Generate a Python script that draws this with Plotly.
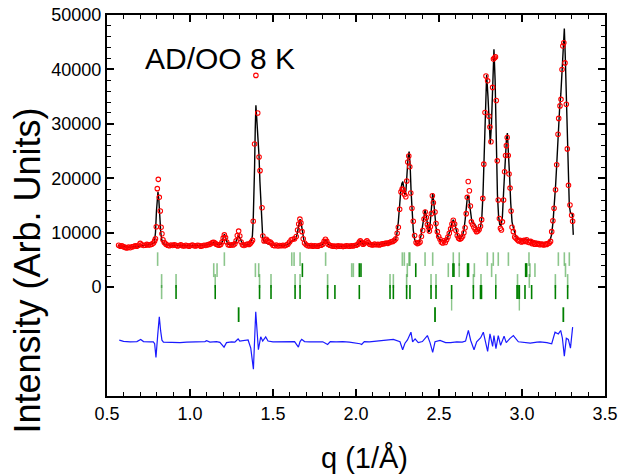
import plotly.graph_objects as go

# ---------------- data ----------------
obs_pts = [
    (0.570, 7700), (0.580, 7500), (0.590, 7600), (0.600, 7400), (0.610, 7300), (0.620, 7200),
    (0.630, 7350), (0.640, 7250), (0.650, 7400), (0.660, 7450), (0.670, 7600), (0.680, 7500),
    (0.690, 7700), (0.700, 8050), (0.710, 7800), (0.720, 7650), (0.730, 7700), (0.740, 7850),
    (0.750, 7750), (0.760, 7800), (0.770, 7900), (0.780, 8100), (0.787, 8500), (0.792, 8900),
    (0.797, 11100), (0.803, 18100), (0.809, 19800), (0.815, 16500), (0.821, 14000), (0.826, 11000),
    (0.831, 9800), (0.837, 8700), (0.845, 8200), (0.855, 7900),
    (0.865, 7700), (0.875, 7600), (0.885, 7750), (0.895, 7650), (0.905, 7800), (0.915, 7700),
    (0.925, 7550), (0.935, 7650), (0.945, 7800), (0.955, 7600), (0.965, 7550), (0.975, 7700),
    (0.985, 7600), (0.995, 7500), (1.005, 7650), (1.015, 7750), (1.025, 7600), (1.035, 7550),
    (1.045, 7700), (1.055, 7650), (1.065, 7500), (1.075, 7600), (1.085, 7700), (1.095, 7650),
    (1.105, 7800), (1.115, 7850), (1.125, 7950), (1.135, 8200), (1.143, 8250), (1.150, 8100),
    (1.158, 7900), (1.166, 7800), (1.175, 7700), (1.185, 7850), (1.193, 8300), (1.200, 9000),
    (1.207, 9600), (1.214, 9100), (1.221, 8300), (1.230, 7800), (1.240, 7700), (1.250, 7800),
    (1.260, 7750), (1.270, 7950), (1.278, 8500), (1.285, 9500), (1.293, 10300), (1.300, 9400),
    (1.308, 8300), (1.316, 7800), (1.325, 7650), (1.335, 7800), (1.345, 7900), (1.355, 7850),
    (1.363, 8000), (1.370, 8300), (1.377, 8600), (1.381, 12100), (1.389, 26300), (1.397, 38900),
    (1.408, 32000), (1.416, 23900), (1.422, 21400), (1.434, 14600), (1.439, 9400), (1.446, 8500),
    (1.453, 8700), (1.460, 8800), (1.468, 8500), (1.476, 8300), (1.484, 8300), (1.492, 8000),
    (1.500, 7700), (1.510, 7600), (1.520, 7750), (1.530, 7550), (1.540, 7650), (1.550, 7600),
    (1.560, 7700), (1.570, 7600), (1.580, 7750), (1.590, 7900), (1.600, 8300), (1.610, 8700),
    (1.620, 8800), (1.630, 8900), (1.640, 9300), (1.648, 10500), (1.655, 11600), (1.662, 12500),
    (1.668, 11800), (1.675, 10200), (1.682, 8900), (1.690, 8100), (1.700, 7800), (1.710, 7600),
    (1.720, 7550), (1.730, 7650), (1.740, 7500), (1.750, 7600), (1.760, 7550), (1.770, 7500),
    (1.780, 7650), (1.790, 7700), (1.800, 7900), (1.808, 8400), (1.816, 8800), (1.824, 8400),
    (1.832, 7900), (1.842, 7700), (1.852, 7600), (1.862, 7500), (1.872, 7550), (1.882, 7450),
    (1.892, 7600), (1.902, 7500), (1.912, 7550), (1.922, 7450), (1.932, 7500), (1.942, 7600),
    (1.952, 7550), (1.962, 7500), (1.972, 7600), (1.982, 7550), (1.992, 7650), (2.002, 7700),
    (2.012, 7900), (2.020, 8300), (2.026, 8500), (2.034, 8200), (2.042, 7900), (2.050, 8000),
    (2.058, 8300), (2.066, 8500), (2.074, 8200), (2.082, 7900), (2.092, 7800), (2.102, 7750),
    (2.112, 7900), (2.122, 7800), (2.132, 7850), (2.142, 7750), (2.152, 7900), (2.162, 7950),
    (2.172, 8000), (2.182, 8100), (2.192, 8050), (2.202, 8200), (2.212, 8350), (2.222, 8400),
    (2.232, 8600), (2.240, 8900), (2.248, 9900), (2.255, 11000), (2.263, 14300), (2.271, 17500),
    (2.278, 18000), (2.285, 17900), (2.292, 17000), (2.300, 16600), (2.306, 19500), (2.312, 23000),
    (2.318, 24100), (2.324, 22100), (2.330, 17300), (2.337, 14500), (2.345, 12100), (2.353, 9500),
    (2.362, 8200), (2.370, 8000), (2.378, 8100), (2.386, 8300), (2.394, 9300), (2.402, 10400),
    (2.410, 12500), (2.417, 13800), (2.424, 12800), (2.430, 11500), (2.436, 11000), (2.442, 10300),
    (2.448, 11100), (2.454, 13500), (2.460, 16800), (2.466, 15500), (2.476, 13800), (2.482, 11700),
    (2.490, 10200), (2.498, 9300), (2.506, 8800), (2.514, 8300), (2.522, 8100), (2.530, 8500),
    (2.538, 8200), (2.546, 8700), (2.554, 9200), (2.562, 9900), (2.570, 10700), (2.578, 11600),
    (2.586, 12300), (2.594, 11600), (2.602, 10400), (2.610, 9500), (2.618, 9000), (2.626, 8800),
    (2.634, 9000), (2.642, 9300), (2.650, 10000), (2.657, 10900), (2.664, 13500), (2.670, 16500),
    (2.676, 19400), (2.683, 17700), (2.689, 14900), (2.695, 12000), (2.702, 11500), (2.710, 11000),
    (2.718, 10600), (2.726, 10200), (2.734, 10300), (2.742, 10600), (2.750, 11200), (2.757, 12400),
    (2.764, 16300), (2.770, 22600), (2.777, 32100), (2.783, 38800), (2.793, 37900), (2.801, 31400),
    (2.807, 29400), (2.813, 26700), (2.823, 36700), (2.828, 41900), (2.834, 42100), (2.840, 42300),
    (2.845, 34300), (2.851, 23200), (2.857, 16000), (2.864, 12600), (2.870, 10800), (2.876, 10500),
    (2.882, 12000), (2.889, 16000), (2.895, 21200), (2.901, 24200), (2.906, 26000), (2.911, 27500),
    (2.917, 24200), (2.922, 20800), (2.928, 18200), (2.934, 14000), (2.940, 11000), (2.948, 10200),
    (2.956, 9200), (2.964, 9000), (2.972, 8700), (2.980, 8500), (2.988, 8600), (2.996, 8300),
    (3.004, 8400), (3.012, 8600), (3.020, 8400), (3.028, 8700), (3.036, 8300), (3.044, 8200),
    (3.052, 8400), (3.060, 8000), (3.068, 8200), (3.076, 7900), (3.084, 8100), (3.092, 7900),
    (3.100, 8000), (3.108, 7800), (3.116, 7900), (3.124, 7850), (3.132, 7750), (3.140, 7900),
    (3.148, 7850), (3.156, 8000), (3.164, 8100), (3.172, 8400), (3.179, 10200), (3.186, 12200),
    (3.193, 14500), (3.202, 17900), (3.209, 22500), (3.217, 28100), (3.221, 31000), (3.229, 33300),
    (3.235, 34500), (3.241, 40000), (3.246, 44300), (3.252, 44900), (3.259, 41200), (3.267, 33600),
    (3.273, 25400), (3.280, 18700), (3.289, 15100), (3.299, 13200), (3.305, 12100),
]

calc_pts = [
    (0.566, 7600), (0.590, 7500), (0.620, 7350), (0.650, 7380), (0.680, 7520), (0.710, 7680),
    (0.740, 7750), (0.770, 7850), (0.785, 8200), (0.792, 10000), (0.798, 14000), (0.803, 16800),
    (0.807, 17500), (0.812, 16200), (0.818, 12800), (0.824, 10000), (0.830, 8700), (0.838, 8050),
    (0.850, 7800), (0.880, 7700), (0.920, 7650), (0.960, 7600), (1.000, 7600), (1.050, 7650),
    (1.090, 7700), (1.120, 7850), (1.135, 8100), (1.145, 8200), (1.155, 8000), (1.170, 7800),
    (1.185, 7850), (1.195, 8400), (1.202, 9300), (1.207, 9700), (1.213, 9300), (1.220, 8500),
    (1.230, 7900), (1.245, 7750), (1.262, 7800), (1.275, 8200), (1.285, 9000), (1.293, 9450),
    (1.300, 9100), (1.308, 8400), (1.318, 7800), (1.330, 7700), (1.345, 7850), (1.360, 7950),
    (1.370, 8300), (1.376, 9500), (1.381, 12500), (1.385, 16000), (1.389, 22000), (1.393, 29000),
    (1.397, 33400), (1.402, 31000), (1.408, 28500), (1.416, 24000), (1.421, 19500), (1.426, 15500),
    (1.432, 11500), (1.438, 9200), (1.446, 8300), (1.458, 8100), (1.470, 7950), (1.490, 7750),
    (1.520, 7650), (1.560, 7650), (1.590, 7800), (1.610, 8400), (1.625, 8600), (1.640, 9000),
    (1.650, 10500), (1.657, 11800), (1.663, 12500), (1.670, 11700), (1.678, 10000), (1.686, 8600),
    (1.695, 7900), (1.710, 7650), (1.740, 7550), (1.780, 7600), (1.800, 7850), (1.808, 8300),
    (1.816, 8800), (1.824, 8400), (1.832, 7900), (1.845, 7650), (1.880, 7500), (1.920, 7500),
    (1.960, 7550), (2.000, 7650), (2.015, 7950), (2.024, 8500), (2.032, 8200), (2.045, 7900),
    (2.060, 8100), (2.068, 8150), (2.080, 7950), (2.100, 7850), (2.140, 7850), (2.180, 8000),
    (2.210, 8200), (2.235, 8600), (2.245, 9500), (2.255, 12000), (2.263, 15500), (2.270, 17800),
    (2.276, 19000), (2.282, 19400), (2.288, 18200), (2.295, 16900), (2.301, 17800), (2.307, 21000),
    (2.314, 24000), (2.320, 24900), (2.326, 22500), (2.332, 17500), (2.338, 13000), (2.345, 10500),
    (2.353, 8800), (2.362, 8100), (2.372, 7950), (2.382, 8300), (2.392, 9500), (2.400, 11000),
    (2.408, 12800), (2.416, 14200), (2.423, 13200), (2.430, 11400), (2.437, 10200), (2.443, 10300),
    (2.450, 12500), (2.456, 15500), (2.462, 17300), (2.468, 15800), (2.475, 13000), (2.482, 11000),
    (2.490, 9600), (2.500, 8900), (2.512, 8600), (2.525, 8500), (2.536, 8500), (2.548, 8800),
    (2.558, 9500), (2.568, 10500), (2.578, 11800), (2.586, 12400), (2.594, 11800), (2.602, 10500),
    (2.612, 9400), (2.622, 8950), (2.632, 9000), (2.642, 9500), (2.650, 10500), (2.658, 12500),
    (2.665, 15000), (2.671, 16600), (2.677, 16900), (2.683, 15500), (2.690, 13500), (2.698, 12000),
    (2.706, 11700), (2.714, 11600), (2.722, 11200), (2.730, 10500), (2.737, 10200), (2.744, 10500),
    (2.750, 11000), (2.758, 12800), (2.765, 17000), (2.772, 24000), (2.779, 33000), (2.787, 39000),
    (2.795, 35000), (2.802, 29000), (2.809, 26300), (2.816, 30000), (2.824, 39000), (2.831, 43700),
    (2.838, 38000), (2.845, 26000), (2.852, 17000), (2.859, 13000), (2.866, 11500), (2.874, 11300),
    (2.882, 13000), (2.890, 18000), (2.898, 23500), (2.906, 27000), (2.912, 28300), (2.918, 25500),
    (2.925, 20500), (2.932, 15500), (2.940, 12000), (2.948, 10900), (2.956, 9800), (2.964, 9200),
    (2.975, 8900), (2.990, 8700), (3.010, 8700), (3.028, 8800), (3.050, 8650), (3.068, 8500),
    (3.090, 8200), (3.110, 8050), (3.130, 8050), (3.148, 8150), (3.160, 8350), (3.169, 8650),
    (3.178, 9600), (3.187, 12000), (3.195, 15000), (3.203, 19000), (3.210, 23000), (3.218, 28500),
    (3.226, 32500), (3.234, 35500), (3.242, 40500), (3.249, 45000), (3.255, 47500), (3.261, 42000),
    (3.267, 34000), (3.273, 26000), (3.279, 19500), (3.285, 15000), (3.292, 13600), (3.303, 13400),
    (3.309, 9600),
]

diff_pts = [
    (0.574, -9740), (0.600, -9950), (0.640, -10050), (0.680, -10000), (0.703, -9620), (0.720, -10000),
    (0.760, -10050), (0.779, -10050), (0.787, -10400), (0.795, -12900), (0.805, -9000), (0.815, -5450),
    (0.823, -8000), (0.831, -9740), (0.840, -10100), (0.870, -10150), (0.900, -10100), (0.940, -10200),
    (0.980, -10100), (1.020, -10050), (1.060, -10100), (1.090, -10000), (1.100, -9850), (1.120, -10100),
    (1.160, -10000), (1.180, -10150), (1.205, -11020), (1.220, -10200), (1.250, -10050), (1.270, -10100),
    (1.280, -9800), (1.290, -9500), (1.300, -9900), (1.330, -9850), (1.350, -9700), (1.366, -11200),
    (1.382, -15070), (1.396, -4540), (1.405, -8500), (1.412, -11500), (1.426, -9130), (1.438, -9900),
    (1.456, -9130), (1.470, -9900), (1.500, -10040), (1.550, -10000), (1.600, -10050), (1.630, -10000),
    (1.653, -11020), (1.663, -10000), (1.673, -9600), (1.690, -10000), (1.720, -10050), (1.760, -10000),
    (1.800, -10050), (1.829, -10530), (1.845, -10000), (1.880, -10050), (1.920, -10000), (1.960, -10100),
    (1.990, -10200), (2.024, -10400), (2.034, -10530), (2.050, -10000), (2.080, -10050), (2.120, -9950),
    (2.150, -9850), (2.190, -9800), (2.225, -9600), (2.265, -10040), (2.281, -11500), (2.295, -10300),
    (2.310, -9700), (2.331, -8270), (2.341, -10040), (2.356, -9500), (2.375, -10200), (2.400, -10000),
    (2.430, -8890), (2.446, -10200), (2.462, -11990), (2.476, -10040), (2.506, -9800), (2.540, -10200),
    (2.570, -10200), (2.607, -10040), (2.640, -10100), (2.660, -9900), (2.677, -7960), (2.691, -9800),
    (2.711, -11500), (2.727, -10040), (2.751, -9300), (2.767, -8270), (2.781, -10500), (2.793, -11800),
    (2.807, -8600), (2.823, -10900), (2.831, -8890), (2.843, -11300), (2.857, -8890), (2.871, -10700),
    (2.892, -9010), (2.905, -10200), (2.928, -9400), (2.948, -8890), (2.978, -10040), (3.010, -10200),
    (3.050, -10300), (3.090, -10100), (3.109, -10040), (3.150, -10200), (3.179, -10400), (3.199, -8270),
    (3.219, -8600), (3.233, -7960), (3.243, -9300), (3.255, -12670), (3.267, -9400), (3.279, -9600),
    (3.292, -11200), (3.305, -7350),
]

# reflection tick positions (q, 1/A) for each row
ticks_a = [0.805, 1.207, 1.613, 1.627, 1.663, 1.817, 2.279, 2.291, 2.319, 2.325, 2.416, 2.462,
           2.586, 2.622, 2.791, 2.827, 2.857, 2.918, 3.042, 3.219, 3.255, 3.285]
ticks_b_light = [1.143, 1.163, 1.394, 1.414, 1.974, 1.984, 2.309, 2.556, 2.622, 2.713, 2.817,
                 3.048, 3.078, 3.262]
ticks_b_dark = [1.677, 2.020, 2.030, 2.360, 2.584, 2.590, 2.672, 2.678, 3.022, 3.028]
ticks_c = [0.829, 0.916, 1.152, 1.419, 1.488, 1.633, 1.663, 1.829, 2.205, 2.225, 2.305, 2.452,
           2.482, 2.707, 2.753, 2.842, 2.973, 3.044, 3.201, 3.275]
ticks_d = [0.916, 1.152, 1.419, 1.488, 1.633, 1.663, 1.829, 1.873, 2.020, 2.205, 2.225, 2.305,
           2.325, 2.452, 2.482, 2.576, 2.707, 2.750, 2.756, 2.842, 2.970, 2.976, 2.984, 3.018,
           3.058, 3.201, 3.275]
ticks_d_light = [0.829]
ticks_e = [1.293, 2.476, 3.249]
ticks_f = [2.576, 2.984]

x_tick_vals = [0.5, 1.0, 1.5, 2.0, 2.5, 3.0, 3.5]
x_tick_text = ["0.5", "1.0", "1.5", "2.0", "2.5", "3.0", "3.5"]
y_tick_vals = [0, 10000, 20000, 30000, 40000, 50000]
y_tick_text = ["0", "10000", "20000", "30000", "40000", "50000"]

# ---------------- styling / layout constants ----------------
FONT = "Liberation Sans, Arial, Helvetica, sans-serif"
LIGHT_GREEN = "rgba(0,128,0,0.45)"
DARK_GREEN = "rgb(0,128,0)"
ROW_A = (3900, 6400)
ROW_B = (1850, 4400)
ROW_C = (-150, 2400)
ROW_D = (-2200, 400)
ROW_E = (-6400, -3700)
ROW_F = (-4300, -2200)


def tick_segments(positions, yr):
    xs, ys = [], []
    for q in positions:
        xs += [q, q, None]
        ys += [yr[0], yr[1], None]
    return xs, ys


fig = go.Figure()

for pos, yr, col, w in [
    (ticks_a, ROW_A, LIGHT_GREEN, 1.6),
    (ticks_b_light, ROW_B, LIGHT_GREEN, 1.6),
    (ticks_b_dark, ROW_B, DARK_GREEN, 1.6),
    (ticks_c, ROW_C, LIGHT_GREEN, 1.6),
    (ticks_d, ROW_D, DARK_GREEN, 1.6),
    (ticks_d_light, ROW_D, LIGHT_GREEN, 1.6),
    (ticks_e, ROW_E, DARK_GREEN, 1.8),
    (ticks_f, ROW_F, LIGHT_GREEN, 1.4),
]:
    xs, ys = tick_segments(pos, yr)
    fig.add_trace(go.Scatter(x=xs, y=ys, mode="lines", line=dict(color=col, width=w),
                             hoverinfo="skip", showlegend=False))

fig.add_trace(go.Scatter(x=[p[0] for p in diff_pts], y=[p[1] for p in diff_pts], mode="lines",
                         line=dict(color="#1a1aff", width=1.2), showlegend=False))
fig.add_trace(go.Scatter(x=[p[0] for p in calc_pts], y=[p[1] for p in calc_pts], mode="lines",
                         line=dict(color="black", width=1.4), showlegend=False))
fig.add_trace(go.Scatter(x=[p[0] for p in obs_pts], y=[p[1] for p in obs_pts], mode="markers",
                         marker=dict(symbol="circle-open", size=4.5, color="red",
                                     line=dict(width=1.1, color="red")),
                         showlegend=False))

axis_common = dict(showgrid=False, zeroline=False, showline=True, linecolor="black",
                   linewidth=2, mirror="ticks", ticks="inside", tickcolor="black",
                   tickwidth=1.5, ticklen=7, automargin=False,
                   tickfont=dict(family=FONT, size=18, color="black"))

fig.update_layout(
    width=625, height=474,
    margin=dict(l=107, r=20, t=15, b=78, autoexpand=False),
    paper_bgcolor="white", plot_bgcolor="white",
    xaxis=dict(range=[0.5, 3.5], tickmode="array", tickvals=x_tick_vals, ticktext=x_tick_text,
               minor=dict(ticks="inside", ticklen=4, tickwidth=1, tickcolor="black",
                          tickmode="linear", tick0=0.5, dtick=0.1),
               **axis_common),
    yaxis=dict(range=[-20000, 50000], tickmode="array", tickvals=y_tick_vals, ticktext=y_tick_text,
               minor=dict(ticks="inside", ticklen=4, tickwidth=1, tickcolor="black",
                          tickmode="array",
                          tickvals=[v for v in range(2000, 50000, 2000) if v % 10000 != 0]),
               **axis_common),
    annotations=[
        dict(text="AD/OO 8 K", xref="paper", yref="paper", x=0.072, y=0.885,
             xanchor="left", yanchor="middle", showarrow=False,
             font=dict(family=FONT, size=30, color="black")),
        dict(text="q (1/Å)", xref="paper", yref="paper", x=0.518, y=-0.163,
             xanchor="center", yanchor="middle", showarrow=False,
             font=dict(family=FONT, size=29, color="black")),
        dict(text="Intensity (Arb. Units)", xref="paper", yref="paper", x=-0.160, y=0.33,
             xanchor="center", yanchor="middle", textangle=-90, showarrow=False,
             font=dict(family=FONT, size=36, color="black")),
    ],
)

fig.write_html("out.html", config={"displayModeBar": False},
               post_script="document.body.style.margin='0';document.body.style.overflow='hidden';")
